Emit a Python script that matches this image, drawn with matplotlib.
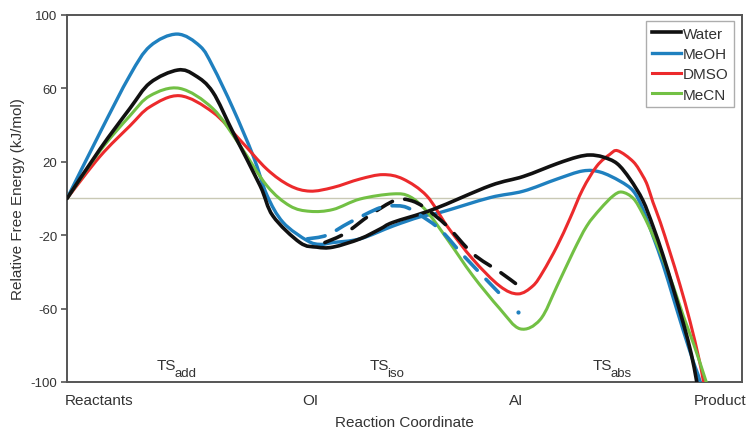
import matplotlib
matplotlib.use("Agg")
import matplotlib.pyplot as plt
from matplotlib.path import Path
from matplotlib.patches import PathPatch
from matplotlib.lines import Line2D

plt.rcParams['font.family'] = ['Liberation Sans', 'DejaVu Sans']
plt.rcParams['axes.unicode_minus'] = False

# Reaction coordinate (0 = Reactants ... ~100 = Product), energies in kJ/mol
water_x = [0, 4.9, 9.3, 12.3, 16.4, 19.0, 21.6, 24.6, 28.6, 30.5, 34.5, 37.0, 39.4, 43.4,
           46.4, 48.3, 54.2, 62.7, 67.6, 72.6, 75.6, 77.5, 79.4, 81.5, 83.4, 85.3,
           86.8, 88.3, 89.8, 91.3, 92.5, 93.3, 94.3]
water_y = [0, 27, 49, 63, 70, 67, 58, 36, 7, -9.5, -24, -26.5, -26.5, -22,
           -16.6, -13, -6, 7, 12, 19, 22.6, 23.7, 22.6, 19, 10.6, -1,
           -15, -31, -49, -68, -85, -100, -120]

meoh_x = [0, 4.9, 9.3, 12.3, 16.3, 19.7, 21.6, 24.6, 27.6, 29.6, 32.0, 35.6, 37.5, 39.4,
          43.4, 48.3, 52.3, 55.3, 62.7, 67.6, 72.6, 76.4, 79.0, 81.9, 83.9, 85.3,
          86.8, 88.3, 89.8, 91.3, 92.7, 93.8, 94.8]
meoh_y = [0, 36, 67, 83, 89.6, 83, 72, 49, 23, 2, -13, -23, -25, -24,
          -22, -15, -10, -7.6, 0.5, 4, 10.6, 15, 14.4, 9.5, 4, -5.7,
          -20.4, -36, -54, -72, -88, -100, -118]

dmso_x = [0, 4.9, 9.3, 12.3, 16.7, 21.6, 25.6, 29.6, 33.0, 36.0, 39.4, 43.4, 46.8, 49.8,
          53.3, 56.3, 60.1, 64.1, 66.8, 69.0, 70.5, 72.6, 74.5, 76.4, 78.5, 80.4, 81.6,
          83.9, 85.3, 86.0, 86.8, 87.9, 89.3, 90.8, 92.3, 93.6, 94.3, 95.3]
dmso_y = [0, 23, 39.5, 50, 56, 47, 32, 16, 7, 4, 6, 10.6, 13, 10.6,
          1.4, -15, -33, -47.7, -52, -47.7, -40, -26, -11, 5, 17.7, 24, 26,
          20, 12.3, 7, -2, -13, -29, -47, -67, -87, -100, -120]

mecn_x = [0, 4.9, 9.3, 12.3, 16.7, 21.6, 25.6, 29.6, 33.0, 36.0, 39.4, 43.4, 48.3, 50.8,
          53.3, 56.3, 60.1, 64.1, 67.1, 70.1, 72.6, 75.0, 77.0, 79.0, 80.9, 82.2, 83.9,
          85.3, 86.8, 88.3, 89.8, 91.3, 92.9, 94.7, 95.7]
mecn_y = [0, 26, 45, 56, 60, 49, 29, 7, -4, -7, -6, -0.3, 2.5, 1,
          -7, -22, -42, -60, -71, -66, -47.7, -29, -15, -5.7, 1.4, 3.5, 0,
          -8.4, -20, -33, -47.7, -64, -80, -100, -112]

# Alternative (dashed) pathways
water_alt_x = [38.2, 41.2, 44.9, 48.6, 50.8, 53.0, 56.3, 60.1, 64.1, 66.7]
water_alt_y = [-24, -19, -9, -1, -1, -5, -15, -30, -40, -47]

meoh_alt_x = [35.6, 38.5, 41.9, 46.4, 48.9, 50.4, 52.3, 55.3, 58.7, 63.1, 65.2]
meoh_alt_y = [-22, -20, -13, -5, -4, -5, -9, -17, -31, -48, -56]
meoh_alt_dot_x = [66.8]
meoh_alt_dot_y = [-62]

point_labels = ['Reactants', 'OI', 'AI', 'Product']
point_pos = [4.7, 36.0, 66.5, 96.7]
ts_main = ['TS', 'TS', 'TS']
ts_sub = ['add', 'iso', 'abs']
ts_pos = [16.4, 47.9, 80.9]

c_water = '#111111'
c_meoh = '#1f80bf'
c_dmso = '#ec2a2c'
c_mecn = '#72c044'
txt = '#333333'


def smooth_line(ax, xs, ys, **kw):
    """Draw a smoothed (Excel-style) curve through the data points using Bezier segments."""
    n = len(xs)
    verts = [(xs[0], ys[0])]
    codes = [Path.MOVETO]
    for i in range(n - 1):
        x0, y0 = (xs[i - 1], ys[i - 1]) if i > 0 else (xs[i], ys[i])
        x1, y1 = xs[i], ys[i]
        x2, y2 = xs[i + 1], ys[i + 1]
        x3, y3 = (xs[i + 2], ys[i + 2]) if i + 2 < n else (x2, y2)
        c1 = (x1 + (x2 - x0) / 6.0, y1 + (y2 - y0) / 6.0)
        c2 = (x2 - (x3 - x1) / 6.0, y2 - (y3 - y1) / 6.0)
        verts += [c1, c2, (x2, y2)]
        codes += [Path.CURVE4] * 3
    patch = PathPatch(Path(verts, codes), fill=False, capstyle='round',
                      joinstyle='round', **kw)
    ax.add_patch(patch)
    return patch


fig = plt.figure(figsize=(7.48, 4.31), dpi=100)
ax = fig.add_axes([0.0896, 0.1114, 0.9024, 0.8515])

ax.axhline(0, color='#c9c9b5', lw=1.0, zorder=1)

smooth_line(ax, water_x, water_y, edgecolor=c_water, lw=2.6, zorder=4)
smooth_line(ax, meoh_x, meoh_y, edgecolor=c_meoh, lw=2.4, zorder=3)
smooth_line(ax, dmso_x, dmso_y, edgecolor=c_dmso, lw=2.2, zorder=3)
smooth_line(ax, mecn_x, mecn_y, edgecolor=c_mecn, lw=2.2, zorder=3)

smooth_line(ax, water_alt_x, water_alt_y, edgecolor=c_water, lw=2.6,
            linestyle=(0, (5, 3.5)), zorder=4)
smooth_line(ax, meoh_alt_x, meoh_alt_y, edgecolor=c_meoh, lw=2.6,
            linestyle=(0, (5, 3.5)), zorder=4)
ax.plot(meoh_alt_dot_x, meoh_alt_dot_y, 'o', color=c_meoh, ms=2, zorder=4)

ax.set_xlim(0, 100)
ax.set_ylim(-100, 100)
ax.set_yticks([-100, -60, -20, 20, 60, 100])
ax.set_xticks(point_pos)
ax.set_xticklabels(point_labels)
ax.tick_params(axis='x', length=0, pad=8, labelsize=11, labelcolor=txt)
ax.tick_params(axis='y', length=4, width=1.2, color='#555555', pad=3,
               labelsize=9.5, labelcolor=txt)

for s in ax.spines.values():
    s.set_color('#555555')
    s.set_linewidth(1.4)

for m, sb, p in zip(ts_main, ts_sub, ts_pos):
    ax.annotate(m, xy=(p, -93), xytext=(-0.8, 0), textcoords='offset points',
                ha='right', va='baseline', fontsize=11, color=txt)
    ax.annotate(sb, xy=(p, -93), xytext=(-2.0, -5), textcoords='offset points',
                ha='left', va='baseline', fontsize=9.5, color=txt)

ax.set_ylabel('Relative Free Energy (kJ/mol)', fontsize=11, color=txt, labelpad=4)
ax.set_xlabel('Reaction Coordinate', fontsize=11, color=txt, labelpad=6)

handles = [Line2D([], [], color=c_water, lw=2.6),
           Line2D([], [], color=c_meoh, lw=2.4),
           Line2D([], [], color=c_dmso, lw=2.2),
           Line2D([], [], color=c_mecn, lw=2.2)]
leg = ax.legend(handles, ['Water', 'MeOH', 'DMSO', 'MeCN'],
                loc='upper right', bbox_to_anchor=(0.9885, 0.983), fontsize=11,
                frameon=True, fancybox=False, edgecolor='#999999',
                handlelength=1.9, handletextpad=0.15, labelspacing=0.42,
                borderpad=0.35, borderaxespad=0.0)
leg.get_frame().set_linewidth(1.0)
for t in leg.get_texts():
    t.set_color(txt)

fig.savefig('out.png', dpi=100)
